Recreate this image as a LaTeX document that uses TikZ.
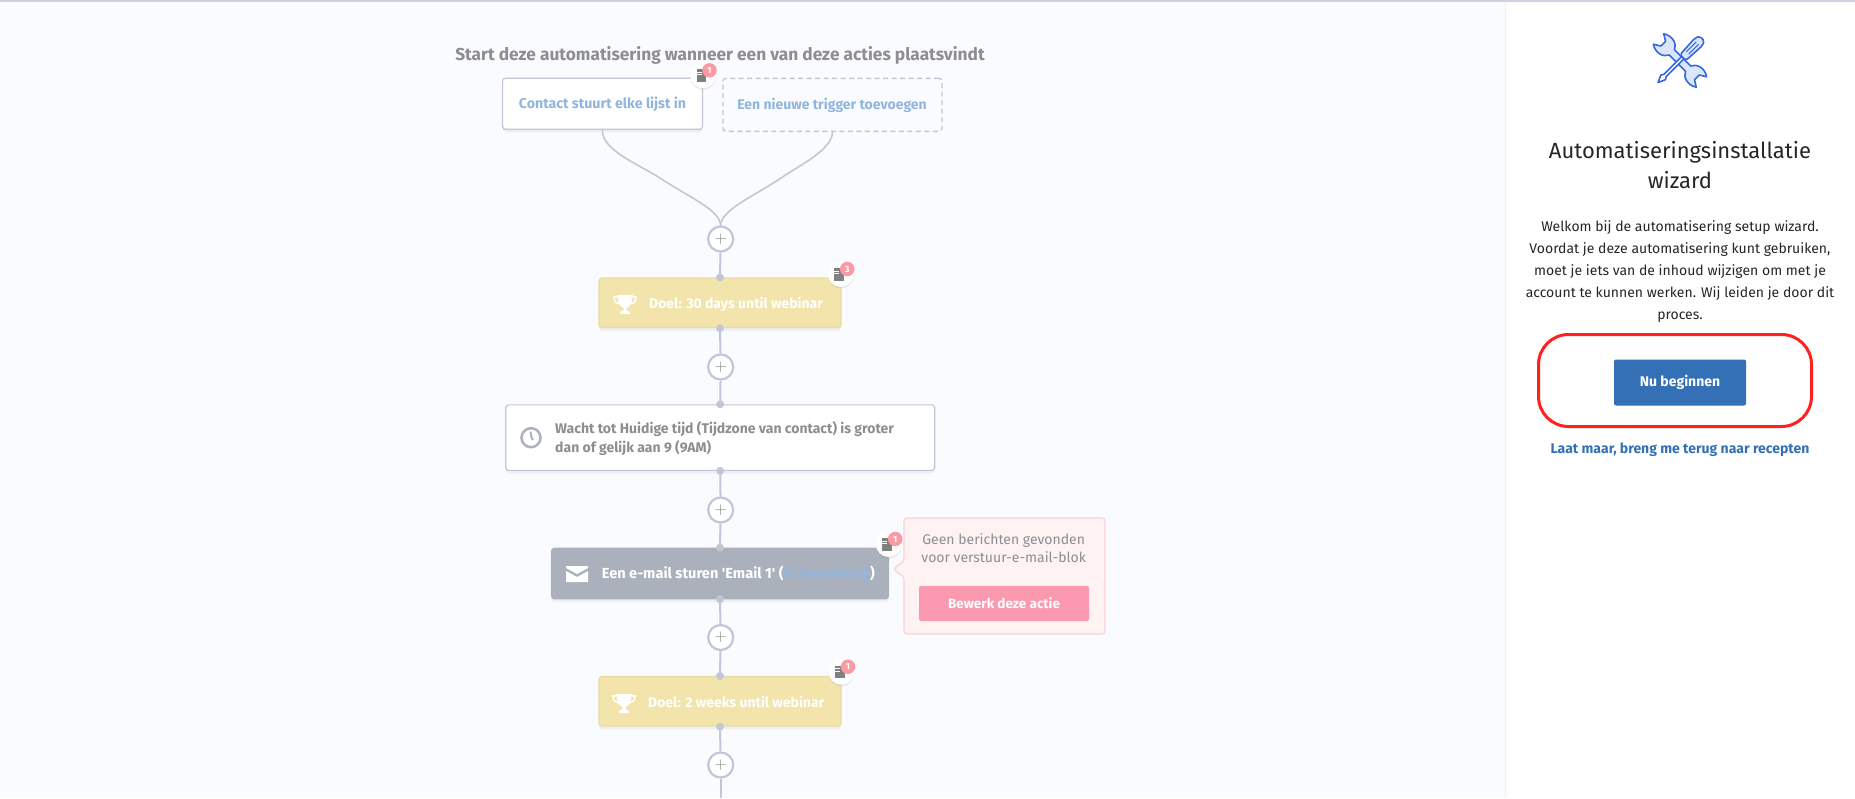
\documentclass[tikz,border=0pt]{standalone}
\usepackage{fontspec}
\setmainfont{Fira Sans}[Ligatures=TeXOff]
\usetikzlibrary{shadows}

\definecolor{pagebg}{HTML}{FAFBFF}
\definecolor{linegray}{HTML}{C3C6D6}
\definecolor{titlegray}{HTML}{8D8D92}
\definecolor{softblue}{HTML}{92B5DE}
\definecolor{goalfill}{HTML}{F2E4AB}
\definecolor{goalline}{HTML}{E9DBA2}
\definecolor{mailfill}{HTML}{AAB1BC}
\definecolor{popfill}{HTML}{FFF2F3}
\definecolor{popline}{HTML}{F7D3D7}
\definecolor{popbutton}{HTML}{FC98AF}
\definecolor{badgered}{HTML}{FB9AA2}
\definecolor{wizblue}{HTML}{3470B5}
\definecolor{markred}{HTML}{FF2020}
\definecolor{toolblue}{HTML}{3568E0}
\definecolor{toolfill}{HTML}{DCE6FA}

\tikzset{
  softshadow/.style={drop shadow={opacity=.10,shadow xshift=0pt,shadow yshift=-3pt}},
  flowbox/.style={rectangle,rounded corners=3,draw=linegray,line width=1.2,fill=white,softshadow,inner sep=0pt},
  goalbox/.style={flowbox,draw=goalline,fill=goalfill,minimum width=242,minimum height=49.5},
  link/.style={draw=linegray,line width=2},
  plusnode/.style={circle,draw=linegray,line width=2.2,fill=white,minimum size=25,inner sep=0pt,
    text=gray,font=\fontsize{17}{17}\fontfamily{lmr}\selectfont},
  joint/.style={circle,fill=linegray,minimum size=8,inner sep=0pt},
  boxlabel/.style={inner sep=0pt,font=\fontsize{14}{19}\selectfont\bfseries},
  trophy/.pic={
    \fill[white] (-8,-9)--(8,-9)--(6,0)..controls (4,3) and (2,3) .. (1.5,4)--(1.5,6)--(5,8)--(5,10)--(-5,10)--(-5,8)--(-1.5,6)--(-1.5,4)..controls (-2,3) and (-4,3) .. (-6,0)--cycle ;
    \draw[white,line width=1.6] (-8,-7)--(-11,-7)..controls (-11,-2) and (-8,0) .. (-5,0) ;
    \draw[white,line width=1.6] (8,-7)--(11,-7)..controls (11,-2) and (8,0) .. (5,0) ;
  }
}

\begin{document}
\begin{tikzpicture}[x=1pt,y=-1pt]
        \useasboundingbox (0,0) rectangle (1855,798) ;
        \fill[pagebg] (0,0) rectangle (1855,798) ;
        \fill[white] (1505,0) rectangle (1855,798) ;
        \draw[color=black!6,line width=1] (1505,0) -- (1505,798) ;
        \fill[linegray!80] (0,0) rectangle (1855,1.5) ;

        % triggers
        \node[boxlabel,text=titlegray,font=\fontsize{17.3}{19}\selectfont\bfseries] (title) at (720,55.8)
        {Start deze automatisering wanneer een van deze acties plaatsvindt} ;
        \node[flowbox,minimum width=200,minimum height=51] (trigger) at (602.5,103.8) {} ;
        \node[boxlabel,text=softblue,font=\fontsize{14.2}{19}\selectfont\bfseries] (triggertext) at (602.5,104) {Contact stuurt elke lijst in} ;
        \node[rectangle,rounded corners=3,draw=linegray,line width=1.4,dashed,dash pattern=on 5 off 3.5,
        minimum width=219,minimum height=53,inner sep=0pt] (newtrigger) at (832.5,104.8) {} ;
        \node[boxlabel,text=softblue] (newtext) at (832,105) {Een nieuwe trigger toevoegen} ;

        % flow
        \node[plusnode] (plusa) at (720.7,239) {+} ;
        \node[goalbox] (goala) at (720,302.8) {} ;
        \node[plusnode] (plusb) at (720.7,367) {+} ;
        \node[flowbox,minimum width=429,minimum height=65.5] (wait) at (720.2,437.6) {} ;
        \node[plusnode] (plusc) at (720.7,510) {+} ;
        \node[flowbox,draw=mailfill,fill=mailfill,minimum width=337,minimum height=50.5] (mail) at (720,573.5) {} ;
        \node[plusnode] (plusd) at (720.7,637.5) {+} ;
        \node[goalbox] (goalb) at (720,701.3) {} ;
        \node[plusnode] (pluse) at (720.7,765) {+} ;

        \coordinate (merge) at (720.6,226) ;
        \coordinate (bottom) at (720.7,798) ;
        \draw[link,line width=1.6] (trigger.south) .. controls (601,150) and (640,165) .. (660,178)
        .. controls (690,198) and (720.6,210) .. (merge) ;
        \draw[link,line width=1.6] (newtrigger.south) .. controls (832,150) and (800,165) .. (781,178)
        .. controls (751,198) and (720.6,210) .. (merge) ;
        \draw[link] (plusa) -- (goala.north) ;
        \draw[link] (goala.south) -- (plusb) ;
        \draw[link] (plusb) -- (wait.north) ;
        \draw[link] (wait.south) -- (plusc) ;
        \draw[link] (plusc) -- (mail.north) ;
        \draw[link] (mail.south) -- (plusd) ;
        \draw[link] (plusd) -- (goalb.north) ;
        \draw[link] (goalb.south) -- (pluse) ;
        \draw[link] (pluse) -- (bottom) ;
        \foreach \boxname in {goala,wait,mail,goalb}{
          \node[joint] (\boxname top) at (\boxname.north) {} ;
          \node[joint] (\boxname low) at (\boxname.south) {} ;
        }

        % box contents
        \pic at (625,304) {trophy} ;
        \node[boxlabel,text=white,anchor=west] (goalatext) at (649,304) {Doel: 30 days until webinar} ;
        \pic at (624,703) {trophy} ;
        \node[boxlabel,text=white,anchor=west] (goalbtext) at (648,702) {Doel: 2 weeks until webinar} ;
        \draw[linegray!90!black,line width=2.6] (531,437.7) circle (9.5) ;
        \draw[linegray!90!black,line width=2] (530.5,431.5) -- (531.5,437.5) -- (533,440) ;
        \node[boxlabel,text=titlegray,anchor=west,align=left] (waittext) at (555,438.5)
        {Wacht tot Huidige tijd (Tijdzone van contact) is groter\\dan of gelijk aan 9 (9AM)} ;
        \fill[white] (566,566) -- (588,566) -- (588,568) -- (577,574) -- (566,568) -- cycle ;
        \fill[white] (566,571) -- (577,577) -- (588,571) -- (588,582) -- (566,582) -- cycle ;
        \node[boxlabel,text=white,anchor=west,font=\fontsize{14.6}{19}\selectfont\bfseries] (mailtext) at (601.7,574)
        {Een e-mail sturen 'Email 1' (\textcolor{softblue}{In bewerking})} ;

        % message popover
        \draw[popline,fill=popfill,line width=1.2,rounded corners=3]
        (904,518) -- (1105,518) -- (1105,634) -- (904,634) -- (904,577) -- (893,569) -- (904,561) -- cycle ;
        \node[inner sep=0pt,align=center,text=titlegray,font=\fontsize{14}{18}\selectfont] (poptext) at (1003.7,548.3)
        {Geen berichten gevonden\\voor verstuur-e-mail-blok} ;
        \node[rectangle,rounded corners=2,fill=popbutton,minimum width=170,minimum height=35,inner sep=0pt,
        text=white,font=\fontsize{13.5}{16}\selectfont\bfseries] (popbtn) at (1004,603.5) {Bewerk deze actie} ;

        % badges
        \foreach \bx/\by/\bcount/\bname in {703/75.3/1/one,840.7/274/3/two,888.7/544/1/three,841.5/671.7/1/four}{
          \node[circle,fill=white,minimum size=26,inner sep=0pt,drop shadow={opacity=.16,shadow xshift=0pt,shadow yshift=-1.5pt}] (badge\bname) at (\bx,\by) {} ;
          \fill[gray] (\bx-6.5,\by-6) rectangle (\bx+3,\by+6.5) ;
          \draw[white,line width=.7] (\bx-6.5,\by-3) -- (\bx-1.5,\by-3) (\bx-6.5,\by-.5) -- (\bx-1.5,\by-.5) ;
          \node[circle,fill=badgered,minimum size=14.5,inner sep=0pt,text=white,
          font=\fontsize{9}{9}\selectfont\bfseries] (count\bname) at (\bx+6.5,\by-5) {\bcount} ;
        }

        % wizard panel
        \begin{scope}[shift={(1680,60.5)},rotate=-45,scale=.82]
        \draw[toolblue,fill=toolfill,line width=1.6,line join=round]
        (14,-4.5) .. controls (17,-12) and (28,-15) .. (37,-9) -- (29,-4) -- (29,4) -- (37,9)
        .. controls (28,15) and (17,12) .. (14,4.5) -- (-14,4.5)
        .. controls (-17,12) and (-28,15) .. (-37,9) -- (-29,4) -- (-29,-4) -- (-37,-9)
        .. controls (-28,-15) and (-17,-12) .. (-14,-4.5) -- cycle ;
        \end{scope}
        \begin{scope}[shift={(1680,60.5)},rotate=45,scale=.82]
        \draw[toolblue,fill=toolfill,line width=1.6,line join=round,rounded corners=2]
        (5,-5) -- (32,-6.5) -- (38,-4) -- (38,4) -- (32,6.5) -- (5,5) -- cycle ;
        \draw[toolblue,line width=1] (13,-2) -- (30,-2) (13,2) -- (30,2) ;
        \draw[toolblue,fill=white,line width=1.6,line join=round]
        (5,-2) -- (-26,-2) -- (-29,-4) -- (-38,0) -- (-29,4) -- (-26,2) -- (5,2) -- cycle ;
        \end{scope}
        \node[inner sep=0pt,align=center,text=black!85,font=\fontsize{22}{29.5}\selectfont] (wizardtitle) at (1680,165)
        {Automatiseringsinstallatie\\wizard} ;
        \node[inner sep=0pt,align=center,text=black!85,font=\fontsize{14}{22}\selectfont] (welcome) at (1680,272)
        {Welkom bij de automatisering setup wizard.\\Voordat je deze automatisering kunt gebruiken,\\moet je iets van de inhoud wijzigen om met je\\account te kunnen werken. Wij leiden je door dit\\proces.} ;
        \node[rectangle,rounded corners=2,fill=wizblue,minimum width=132,minimum height=46,inner sep=0pt,
        text=white,font=\fontsize{14}{16}\selectfont\bfseries] (startbtn) at (1680,382.5) {Nu beginnen} ;
        \node[rectangle,rounded corners=30,draw=markred,line width=3,minimum width=273,minimum height=92,inner sep=0pt] (startmark) at (1675,380.5) {} ;
        \node[inner sep=0pt,text=wizblue,font=\fontsize{14}{16}\selectfont\bfseries] (backlink) at (1680,449.3)
        {Laat maar, breng me terug naar recepten} ;
      \end{tikzpicture}
\end{document}
